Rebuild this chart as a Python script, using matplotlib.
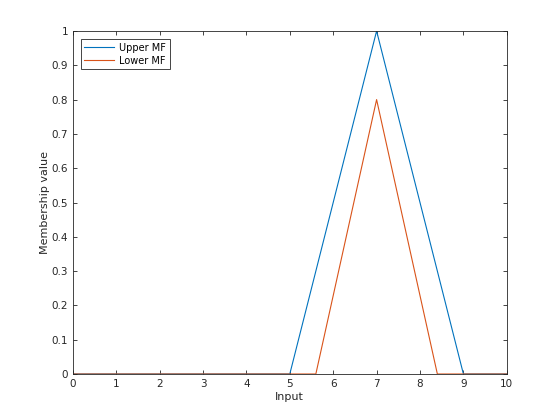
import numpy as np
import matplotlib
matplotlib.use("Agg")
import matplotlib.pyplot as plt

# triangle vertices
upperX = [0, 5, 7, 9, 10]
upperY = [0, 0, 1, 0, 0]
lowerX = [0, 5.6, 7, 8.4, 10]
lowerY = [0, 0, 0.8, 0, 0]

plt.rcParams['font.family'] = 'DejaVu Sans'
plt.rcParams['font.size'] = 7.5

fig = plt.figure(figsize=(5.6, 4.2), dpi=100)
ax = fig.add_axes([0.130, 0.1095, 0.775, 0.8167])

ax.plot(upperX, upperY, color='#0072BD', linewidth=0.8, label='Upper MF')
ax.plot(lowerX, lowerY, color='#D95319', linewidth=0.8, label='Lower MF')

ax.set_xlim(0, 10)
ax.set_ylim(0, 1)
ax.set_xticks(np.arange(0, 11, 1))
ax.set_yticks(np.arange(0, 1.01, 0.1))
ax.set_yticklabels(['0', '0.1', '0.2', '0.3', '0.4', '0.5', '0.6', '0.7', '0.8', '0.9', '1'])
ax.tick_params(direction='in', top=True, right=True, length=3, width=0.6,
               colors='#262626', labelsize=7.5)
for s in ax.spines.values():
    s.set_linewidth(0.6)
    s.set_color('#262626')

ax.set_xlabel('Input', fontsize=8, color='#262626', labelpad=2)
ax.set_ylabel('Membership value', fontsize=8, color='#262626', labelpad=1)

leg = ax.legend(loc='upper left', fontsize=7, fancybox=False, framealpha=1,
                edgecolor='#262626', handlelength=3.0, handletextpad=0.6,
                borderaxespad=0.8, labelspacing=0.3, borderpad=0.4)
leg.get_frame().set_linewidth(0.6)

plt.savefig('out.png', dpi=100)
